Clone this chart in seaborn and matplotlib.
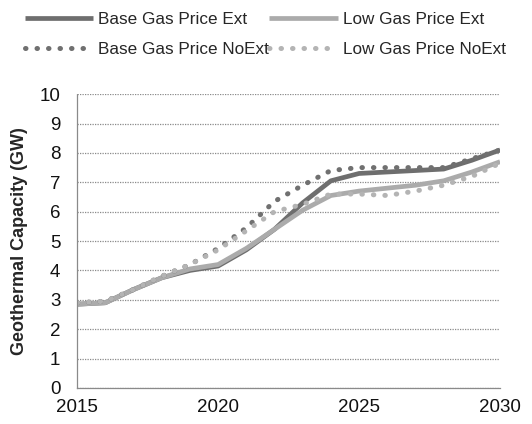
import matplotlib
matplotlib.use("Agg")
import matplotlib.pyplot as plt
import seaborn as sns
import pandas as pd
from matplotlib.lines import Line2D

years = list(range(2015, 2031))
base_ext = [2.85, 2.9, 3.35, 3.75, 4.0, 4.15, 4.7, 5.4, 6.3, 7.05, 7.3, 7.35, 7.4, 7.45, 7.75, 8.1]
low_ext = [2.85, 2.9, 3.35, 3.75, 4.05, 4.2, 4.75, 5.4, 6.05, 6.55, 6.7, 6.8, 6.9, 7.05, 7.35, 7.7]
base_noext = [2.9, 2.95, 3.35, 3.8, 4.2, 4.75, 5.45, 6.35, 6.9, 7.4, 7.5, 7.5, 7.5, 7.5, 7.8, 8.1]
low_noext = [2.9, 2.95, 3.35, 3.8, 4.2, 4.7, 5.35, 6.0, 6.25, 6.6, 6.6, 6.55, 6.7, 6.9, 7.2, 7.65]
series_names = ["Base Gas Price Ext", "Low Gas Price Ext", "Base Gas Price NoExt", "Low Gas Price NoExt"]
y_ticks = list(range(0, 11))
x_ticks = [2015, 2020, 2025, 2030]

sns.set_style("white")
plt.rcParams["font.family"] = ["Liberation Sans", "DejaVu Sans"]

df = pd.DataFrame({
    "Year": years * 4,
    "GW": base_ext + low_ext + base_noext + low_noext,
    "Series": sum([[n] * len(years) for n in series_names], []),
})

fig = plt.figure(figsize=(5.32, 4.24), dpi=100)
ax = fig.add_axes([0.145, 0.085, 0.795, 0.693])

styles = {
    "Base Gas Price Ext": dict(color="#6e6e6e", lw=3.4, ls="-"),
    "Low Gas Price Ext": dict(color="#ababab", lw=3.4, ls="-"),
    "Base Gas Price NoExt": dict(color="#707070", lw=3.6, ls=(0, (0.1, 2.2))),
    "Low Gas Price NoExt": dict(color="#b4b4b4", lw=3.6, ls=(0, (0.1, 2.2))),
}

handles = {}
for name in series_names:
    st = styles[name]
    sub = df[df["Series"] == name]
    sns.lineplot(data=sub, x="Year", y="GW", ax=ax, color=st["color"],
                 linewidth=st["lw"], linestyle=st["ls"], legend=False,
                 dash_capstyle="round", solid_capstyle="butt")
    handles[name] = Line2D([], [], color=st["color"], lw=st["lw"], ls=st["ls"],
                           dash_capstyle="round", solid_capstyle="butt")

ax.set_xlim(2015, 2030)
ax.set_ylim(0, 10)
ax.set_xticks(x_ticks)
ax.set_yticks(y_ticks)
ax.grid(axis="y", color="#8a8a8a", linestyle=(0, (1, 1)), linewidth=0.9)
ax.grid(axis="x", visible=False)
ax.set_axisbelow(True)
for s in ["top", "right"]:
    ax.spines[s].set_visible(False)
for s in ["left", "bottom"]:
    ax.spines[s].set_color("#8a8a8a")
    ax.spines[s].set_linestyle((0, (1, 1)))
    ax.spines[s].set_linewidth(0.9)
ax.tick_params(axis="both", labelsize=13.5, colors="#111111", length=3, width=0.8)
ax.tick_params(axis="y", length=0, pad=12)
ax.tick_params(axis="x", pad=5)
ax.set_xlabel("")
ax.set_ylabel("Geothermal Capacity (GW)", fontsize=13, fontweight="bold", labelpad=8)

order = ["Base Gas Price Ext", "Base Gas Price NoExt", "Low Gas Price Ext", "Low Gas Price NoExt"]
fig.legend([handles[n] for n in order], order, loc="upper left", bbox_to_anchor=(0.018, 1.008),
           ncol=2, frameon=False, fontsize=12.3, handlelength=4.0, handletextpad=0.3,
           columnspacing=0.0, labelspacing=0.85)

fig.savefig("out.png", dpi=100)
